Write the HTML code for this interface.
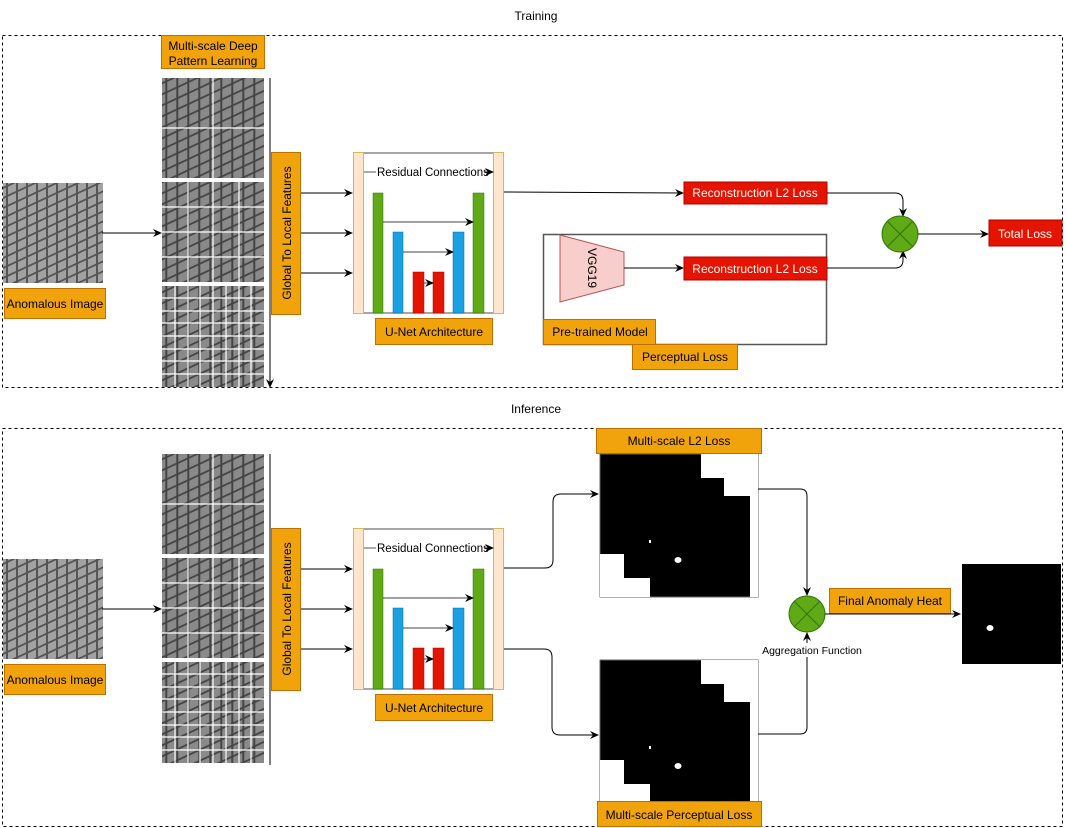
<!DOCTYPE html>
<html><head><meta charset="utf-8"><style>
html,body{margin:0;padding:0;background:#fff}
svg{display:block}
text{font-family:"Liberation Sans",Arial,sans-serif;font-size:12px;fill:#000}
</style></head><body>
<svg width="1067" height="828" viewBox="0 0 1067 828" xmlns="http://www.w3.org/2000/svg">
<defs>
<marker id="ar" markerWidth="10" markerHeight="10" refX="8" refY="5" orient="auto" markerUnits="userSpaceOnUse">
<path d="M0,1 L9,5 L0,9 L3,5 z" fill="#000"/></marker>
<pattern id="tx1" width="10" height="10" patternUnits="userSpaceOnUse">
<rect width="10" height="10" fill="#a2a2a2"/>
<rect x="3" width="2" height="10" fill="#555"/>
</pattern>
<pattern id="tx2" width="10" height="10" patternUnits="userSpaceOnUse" patternTransform="skewY(-25)">
<rect y="4" width="10" height="2" fill="#555"/>
</pattern>
<pattern id="s1" width="10" height="10" patternUnits="userSpaceOnUse" patternTransform="scale(1.1)">
<rect width="10" height="10" fill="#8a8a8a"/>
<rect x="3" width="1.8" height="10" fill="#444"/>
</pattern>
<pattern id="s2" width="10" height="10" patternUnits="userSpaceOnUse" patternTransform="scale(1.1) skewY(-25)">
<rect y="4" width="10" height="1.8" fill="#444"/>
</pattern>
<g id="fabric">
<rect width="100" height="100" fill="url(#tx1)"/>
<rect width="100" height="100" fill="url(#tx2)"/>
</g>
<g id="stack">
<rect x="0" y="0" width="102" height="309" fill="url(#s1)"/>
<rect x="0" y="0" width="102" height="309" fill="url(#s2)"/>
<rect x="0" y="100" width="102" height="4" fill="#fff"/>
<rect x="0" y="204" width="102" height="4" fill="#fff"/>
<g stroke="#fff" stroke-width="1.2">
<line x1="51" y1="0" x2="51" y2="100"/><line x1="0" y1="50" x2="102" y2="50"/>
<line x1="26" y1="104" x2="26" y2="204"/><line x1="51" y1="104" x2="51" y2="204"/><line x1="77" y1="104" x2="77" y2="204"/>
<line x1="0" y1="129" x2="102" y2="129"/><line x1="0" y1="154" x2="102" y2="154"/><line x1="0" y1="179" x2="102" y2="179"/>
<line x1="13" y1="208" x2="13" y2="309"/><line x1="26" y1="208" x2="26" y2="309"/><line x1="38" y1="208" x2="38" y2="309"/><line x1="51" y1="208" x2="51" y2="309"/><line x1="64" y1="208" x2="64" y2="309"/><line x1="77" y1="208" x2="77" y2="309"/><line x1="89" y1="208" x2="89" y2="309"/>
<line x1="0" y1="220" x2="102" y2="220"/><line x1="0" y1="233" x2="102" y2="233"/><line x1="0" y1="245" x2="102" y2="245"/><line x1="0" y1="258" x2="102" y2="258"/><line x1="0" y1="271" x2="102" y2="271"/><line x1="0" y1="283" x2="102" y2="283"/><line x1="0" y1="296" x2="102" y2="296"/>
</g>
</g>
<g id="unet">
<line x1="0" y1="1" x2="151" y2="1" stroke="#888" stroke-width="1.5"/>
<line x1="0" y1="161" x2="151" y2="161" stroke="#888" stroke-width="1.5"/>
<rect x="0.5" y="0.5" width="10" height="161" fill="#ffe6cc" stroke="#d6b656"/>
<rect x="140.5" y="0.5" width="10" height="161" fill="#ffe6cc" stroke="#d6b656"/>
<text x="24" y="24" style="font-size:11.5px">Residual Connections</text>
<line x1="11" y1="20" x2="23" y2="20" stroke="#555"/>
<line x1="132" y1="20" x2="140" y2="20" stroke="#000" marker-end="url(#ar)"/>
<rect x="20" y="41" width="10" height="120" fill="#60a917" stroke="#2d7600" stroke-width=".5"/>
<rect x="40" y="80" width="10" height="81" fill="#1ba1e2" stroke="#006eaf" stroke-width=".5"/>
<rect x="60" y="120" width="11" height="41" fill="#e51400" stroke="#b20000" stroke-width=".5"/>
<rect x="80" y="120" width="11" height="41" fill="#e51400" stroke="#b20000" stroke-width=".5"/>
<rect x="100" y="80" width="11" height="81" fill="#1ba1e2" stroke="#006eaf" stroke-width=".5"/>
<rect x="120" y="41" width="11" height="120" fill="#60a917" stroke="#2d7600" stroke-width=".5"/>
<line x1="30" y1="70" x2="120" y2="70" stroke="#444" marker-end="url(#ar)"/>
<line x1="50" y1="100" x2="100" y2="100" stroke="#444" marker-end="url(#ar)"/>
<line x1="71" y1="131" x2="80" y2="131" stroke="#444" marker-end="url(#ar)"/>
</g>
<g id="mask">
<rect x="0" y="0" width="158" height="143" fill="#000" stroke="#666"/>
<path d="M101,0 H158 V143 H150 V42 H124 V24 H101 z" fill="#fff"/>
<path d="M0,100 H24 V124 H50 V143 H0 z" fill="#fff"/>
<ellipse cx="78" cy="106" rx="3.5" ry="3" fill="#fff"/>
<rect x="49" y="86" width="2" height="3" fill="#fff"/>
</g>
</defs>

<!-- TRAINING -->
<text x="536" y="20" text-anchor="middle">Training</text>
<rect x="2.5" y="35.5" width="1060" height="352" fill="none" stroke="#000" stroke-dasharray="3,3"/>
<use href="#fabric" x="3" y="183"/>
<rect x="4.5" y="288.5" width="101" height="30" fill="#f0a30a" stroke="#bd7000"/>
<text x="55" y="308" text-anchor="middle">Anomalous Image</text>
<line x1="102" y1="233" x2="161" y2="233" stroke="#000" marker-end="url(#ar)"/>
<rect x="161.5" y="35.5" width="103" height="33" fill="#f0a30a" stroke="#bd7000"/>
<text x="213" y="50" text-anchor="middle">Multi-scale Deep</text>
<text x="213" y="65" text-anchor="middle">Pattern Learning</text>
<use href="#stack" x="162" y="78"/>
<line x1="270" y1="78" x2="270" y2="387" stroke="#000" marker-end="url(#ar)"/>
<rect x="271.5" y="152.5" width="29" height="162" fill="#f0a30a" stroke="#bd7000"/>
<text transform="translate(291,233) rotate(-90)" text-anchor="middle">Global To Local Features</text>
<line x1="301" y1="193" x2="352" y2="193" stroke="#000" marker-end="url(#ar)"/>
<line x1="301" y1="233" x2="352" y2="233" stroke="#000" marker-end="url(#ar)"/>
<line x1="301" y1="273" x2="352" y2="273" stroke="#000" marker-end="url(#ar)"/>
<use href="#unet" x="353" y="152"/>
<rect x="375.5" y="318.5" width="117" height="26" fill="#f0a30a" stroke="#bd7000"/>
<text x="434" y="336" text-anchor="middle">U-Net Architecture</text>
<line x1="504" y1="192" x2="683" y2="193" stroke="#000" marker-end="url(#ar)"/>
<rect x="684" y="182" width="143" height="22" fill="#e51400" stroke="#b20000"/>
<text x="755" y="197" text-anchor="middle" style="fill:#fff">Reconstruction L2 Loss</text>
<path d="M827,193 H895 Q903,193 903,201 V216" fill="none" stroke="#000" marker-end="url(#ar)"/>
<rect x="543.5" y="234.5" width="283" height="110" fill="none" stroke="#555" stroke-width="1.5"/>
<path d="M560,235 L624,252 L624,285 L560,302 z" fill="#f8cecc" stroke="#b85450"/>
<text transform="translate(588,268) rotate(90)" text-anchor="middle" style="font-size:12px">VGG19</text>
<line x1="624" y1="268" x2="683" y2="268" stroke="#000" marker-end="url(#ar)"/>
<rect x="684" y="257" width="143" height="23" fill="#e51400" stroke="#b20000"/>
<text x="755" y="273" text-anchor="middle" style="fill:#fff">Reconstruction L2 Loss</text>
<path d="M827,268 H895 Q903,268 903,260 V251" fill="none" stroke="#000" marker-end="url(#ar)"/>
<rect x="543.5" y="319.5" width="112" height="25" fill="#f0a30a" stroke="#bd7000"/>
<text x="600" y="336" text-anchor="middle">Pre-trained Model</text>
<rect x="632.5" y="344.5" width="105" height="25" fill="#f0a30a" stroke="#bd7000"/>
<text x="685" y="361" text-anchor="middle">Perceptual Loss</text>
<circle cx="900" cy="234" r="18" fill="#60a917" stroke="#2d7600"/>
<path d="M887,221 L913,247 M913,221 L887,247" stroke="#2d7600"/>
<line x1="918" y1="234" x2="988" y2="234" stroke="#000" marker-end="url(#ar)"/>
<rect x="989" y="220" width="73" height="26" fill="#e51400" stroke="#b20000"/>
<text x="1025" y="238" text-anchor="middle" style="fill:#fff">Total Loss</text>

<!-- INFERENCE -->
<text x="536" y="413" text-anchor="middle">Inference</text>
<rect x="2.5" y="428.5" width="1060" height="398" fill="none" stroke="#000" stroke-dasharray="3,3"/>
<use href="#fabric" x="3" y="559"/>
<rect x="4.5" y="664.5" width="101" height="30" fill="#f0a30a" stroke="#bd7000"/>
<text x="55" y="684" text-anchor="middle">Anomalous Image</text>
<line x1="102" y1="609" x2="161" y2="609" stroke="#000" marker-end="url(#ar)"/>
<use href="#stack" x="162" y="454"/>
<line x1="270" y1="454" x2="270" y2="765" stroke="#000"/>
<rect x="271.5" y="528.5" width="29" height="162" fill="#f0a30a" stroke="#bd7000"/>
<text transform="translate(291,609) rotate(-90)" text-anchor="middle">Global To Local Features</text>
<line x1="301" y1="569" x2="352" y2="569" stroke="#000" marker-end="url(#ar)"/>
<line x1="301" y1="609" x2="352" y2="609" stroke="#000" marker-end="url(#ar)"/>
<line x1="301" y1="649" x2="352" y2="649" stroke="#000" marker-end="url(#ar)"/>
<use href="#unet" x="353" y="528"/>
<rect x="375.5" y="694.5" width="117" height="26" fill="#f0a30a" stroke="#bd7000"/>
<text x="434" y="712" text-anchor="middle">U-Net Architecture</text>
<path d="M504,568 H545 Q553,568 553,560 V502 Q553,494 561,494 H598" fill="none" stroke="#000" marker-end="url(#ar)"/>
<path d="M504,649 H544 Q552,649 552,657 V727 Q552,735 560,735 H598" fill="none" stroke="#000" marker-end="url(#ar)"/>
<use href="#mask" x="600" y="454"/>
<use href="#mask" x="600" y="660"/>
<rect x="596.5" y="428.5" width="165" height="25" fill="#f0a30a" stroke="#bd7000"/>
<text x="679" y="445" text-anchor="middle">Multi-scale L2 Loss</text>
<rect x="597.5" y="801.5" width="164" height="25" fill="#f0a30a" stroke="#bd7000"/>
<text x="679" y="819" text-anchor="middle">Multi-scale Perceptual Loss</text>
<path d="M758,489 H800 Q807,489 807,496 V595" fill="none" stroke="#000" marker-end="url(#ar)"/>
<path d="M758,734 H800 Q807,734 807,727 V633" fill="none" stroke="#000" marker-end="url(#ar)"/>
<circle cx="807" cy="614" r="18" fill="#60a917" stroke="#2d7600"/>
<path d="M794,601 L820,627 M820,601 L794,627" stroke="#2d7600"/>
<rect x="762" y="643" width="100" height="14" fill="#fff"/>
<text x="812" y="654" text-anchor="middle" style="font-size:10.5px">Aggregation Function</text>
<rect x="829.5" y="588.5" width="121" height="25" fill="#f0a30a" stroke="#bd7000"/>
<text x="890" y="605" text-anchor="middle">Final Anomaly Heat</text>
<line x1="825" y1="614" x2="960" y2="614" stroke="#000" marker-end="url(#ar)"/>
<rect x="962" y="564" width="99" height="100" fill="#000"/>
<ellipse cx="990" cy="628" rx="3.5" ry="3" fill="#fff"/>
</svg>
</body></html>
